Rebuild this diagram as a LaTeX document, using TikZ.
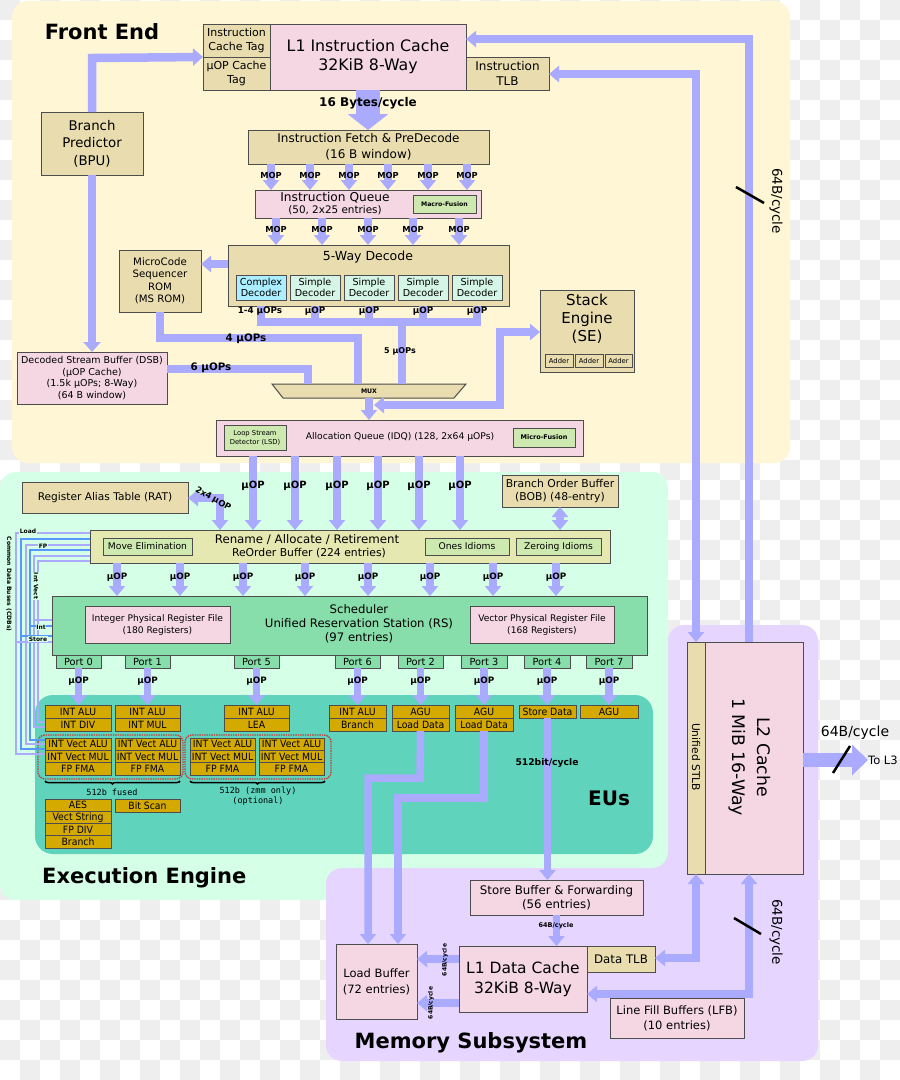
\documentclass[tikz,border=0pt]{standalone}
\usepackage{fontspec}
\setmainfont{DejaVu Sans}
\newfontfamily\condf[FakeStretch=0.93]{DejaVu Sans}
\newfontfamily\monof{DejaVu Sans Mono}
\usetikzlibrary{arrows.meta,decorations.pathreplacing}
\definecolor{fe}{RGB}{255,246,213}
\definecolor{ee}{RGB}{213,255,230}
\definecolor{msc}{RGB}{229,213,255}
\definecolor{euc}{RGB}{95,211,188}
\definecolor{tanc}{RGB}{233,221,175}
\definecolor{pk}{RGB}{244,215,227}
\definecolor{lg}{RGB}{205,233,175}
\definecolor{sch}{RGB}{135,222,170}
\definecolor{gold}{RGB}{212,170,0}
\definecolor{cx}{RGB}{170,238,255}
\definecolor{sdc}{RGB}{213,246,230}
\definecolor{robc}{RGB}{229,232,176}
\definecolor{busc}{RGB}{170,170,255}
\definecolor{cdbc}{RGB}{85,153,255}
\definecolor{brd}{RGB}{77,77,77}
\definecolor{chk}{RGB}{238,238,238}
\newcommand\fz[2]{\fontsize{#1}{#2}\selectfont}
\newcommand\bx[7]{\pgfmathsetmacro\bw{(#4)-(#2)}\pgfmathsetmacro\bh{(#5)-(#3)}%
\node[bxs,#6,minimum width=\bw pt,minimum height=\bh pt] (#1) at ({((#2)+(#4))/2},{((#3)+(#5))/2}) {#7};}
\begin{document}
\begin{tikzpicture}[x=1pt,y=-1pt,
  bxs/.style={draw=brd,line width=1pt,inner sep=0.5pt,outer sep=0pt,align=center},
  bus/.style={draw=busc,line width=7.5pt,-{Triangle[width=16pt,length=10pt]}},
  busb/.style={draw=busc,line width=7.5pt,{Triangle[width=16pt,length=10pt]}-{Triangle[width=16pt,length=10pt]}},
  busn/.style={draw=busc,line width=7.5pt},
  lbl/.style={font=\bfseries\fz{8.3}{9},inner sep=0pt},
  lblu/.style={font=\bfseries\fz{8.8}{10},inner sep=0pt},
  txt/.style={inner sep=0pt,align=center},
  ttl/.style={font=\bfseries\fz{21}{23},inner sep=0pt},
  eu/.style={fill=gold,font=\condf\fz{10}{11},inner sep=0pt},
  cdbl/.style={line width=1.3pt},
  slash/.style={line width=2.5pt,black}
]
\useasboundingbox (0,0) rectangle (900,1080);
\fill[white] (0,0) rectangle (900,1080);
\foreach \i in {0,2,...,44} \foreach \j in {0,2,...,52} {
  \fill[chk] ({\i*20},{\j*20}) rectangle ++(20,20);
  \fill[chk] ({(\i+1)*20},{(\j+1)*20}) rectangle ++(20,20);}
% panels
\fill[fe,rounded corners=16] (12,1) rectangle (790,463);
\fill[ee,rounded corners=16] (0,472) rectangle (668,900);
\fill[msc,rounded corners=16] (326,868) -- (668,868) -- (668,625) -- (818,625) -- (818,1061) -- (326,1061) -- cycle;
\fill[euc,rounded corners=18] (35,695) rectangle (653,854);

% ---------- Front End ----------
\node[ttl] (tfe) at (102,32) {Front End};
\bx{ictag}{203}{24}{270}{57}{fill=tanc,font=\fz{11}{13.5}}{Instruction\\Cache Tag}
\bx{uoptag}{203}{57}{270}{90}{fill=tanc,font=\fz{11}{13.5}}{µOP Cache\\Tag}
\bx{l1i}{270}{24}{466}{90}{fill=pk,font=\fz{15.8}{19}}{L1 Instruction Cache\\32KiB 8-Way}
\bx{itlb}{466}{57}{549}{90}{fill=tanc,font=\fz{12}{15}}{Instruction\\TLB}
\bx{bpu}{41}{112}{143}{175}{fill=tanc,font=\fz{13.3}{17.5}}{Branch\\Predictor\\(BPU)}
\bx{ifetch}{248}{130}{489}{164}{fill=tanc,font=\fz{12}{16}}{Instruction Fetch \& PreDecode\\(16 B window)}
\bx{iq}{255}{190}{481}{218}{fill=pk}{}
\node[txt,font=\fz{12.2}{13}] (iqt1) at (335,198) {Instruction Queue};
\node[txt,font=\fz{10.4}{11}] (iqt2) at (335,210.5) {(50, 2x25 entries)};
\bx{mfuse}{413}{195}{476}{213}{fill=lg,font=\bfseries\fz{6.2}{7}}{Macro-Fusion}
\bx{dec}{228}{245}{509}{306}{fill=tanc}{}
\node[txt,font=\fz{12.5}{14}] (dect) at (368,257) {5-Way Decode};
\bx{cdec}{236}{275}{286}{300}{fill=cx,font=\fz{9.6}{11.5}}{Complex\\Decoder}
\bx{sdec1}{290}{275}{340}{300}{fill=sdc,font=\fz{9.6}{11.5}}{Simple\\Decoder}
\bx{sdec2}{344}{275}{394}{300}{fill=sdc,font=\fz{9.6}{11.5}}{Simple\\Decoder}
\bx{sdec3}{398}{275}{448}{300}{fill=sdc,font=\fz{9.6}{11.5}}{Simple\\Decoder}
\bx{sdec4}{452}{275}{502}{300}{fill=sdc,font=\fz{9.6}{11.5}}{Simple\\Decoder}
\bx{msrom}{119}{250}{201}{312}{fill=tanc,font=\fz{10.2}{12.5}}{MicroCode\\Sequencer\\ROM\\(MS ROM)}
\bx{dsb}{17}{352}{167}{404}{fill=pk,font=\fz{9.5}{11.5}}{Decoded Stream Buffer (DSB)\\(µOP Cache)\\(1.5k µOPs; 8-Way)\\(64 B window)}
\bx{se}{540}{290}{634}{372}{fill=tanc}{}
\node[txt,font=\fz{15}{18}] (set) at (587,319) {Stack\\Engine\\(SE)};
\bx{add1}{545}{354}{573}{367}{fill=tanc,font=\fz{6.8}{8},line width=0.8pt}{Adder}
\bx{add2}{575}{354}{603}{367}{fill=tanc,font=\fz{6.8}{8},line width=0.8pt}{Adder}
\bx{add3}{605}{354}{632}{367}{fill=tanc,font=\fz{6.8}{8},line width=0.8pt}{Adder}
\bx{idq}{216}{420}{583}{456}{fill=pk}{}
\node[txt,font=\fz{9.2}{10}] (idqt) at (400,437) {Allocation Queue (IDQ) (128, 2x64 µOPs)};
\bx{lsd}{224}{425}{286}{450}{fill=lg,font=\fz{6.8}{9}}{Loop Stream\\Detector (LSD)}
\bx{mf2}{513}{428}{575}{447}{fill=lg,font=\bfseries\fz{6.5}{8}}{Micro-Fusion}

% front-end connectors
\draw[draw=busc,line width=24pt,-{Triangle[width=40pt,length=16pt]}] (l1i.south) -- (l1i.south |- ifetch.north);
\node[txt,font=\bfseries\fz{12}{13}] (b16) at (368,103) {16 Bytes/cycle};
\draw[draw=busc,line width=8.5pt,-{Triangle[width=17pt,length=10pt]}] (bpu.north) -- (92,58) -- (ictag.south west);
\draw[draw=busc,line width=8.5pt,-{Triangle[width=17pt,length=10pt]}] (bpu.south) -- (bpu.south |- dsb.north);
\foreach \x [count=\i] in {271,310,349,388,428,467}{
  \draw[bus] (\x,0 |- ifetch.south) -- (\x,0 |- iq.north);
  \node[lbl] (mopa\i) at (\x,175) {MOP};}
\foreach \x [count=\i] in {276,322,368,413,459}{
  \draw[bus] (\x,0 |- iq.south) -- (\x,0 |- dec.north);
  \node[lbl] (mopb\i) at (\x,229) {MOP};}
\draw[bus] (dec.west |- 0,264) -- (msrom.east |- 0,264);
% decoder outputs
\draw[busn] (cdec.south |- dec.south) -- (cdec.south |- 0,322) -- (sdec4.south |- 0,322) -- (sdec4.south |- dec.south);
\foreach \n in {sdec1,sdec2,sdec3} \draw[busn] (\n.south |- dec.south) -- (\n.south |- 0,322);
% mux
\fill[tanc,draw=brd,line width=1pt] (272,384) -- (466,384) -- (454,398) -- (283,398) -- cycle;
\node[inner sep=0pt,minimum width=194pt,minimum height=14pt,font=\bfseries\fz{6.2}{7}] (mux) at (369,391) {MUX};
\draw[busn] (402,322) -- (402,0 |- mux.north);
\draw[busn] (msrom.south -| 160,0) -- (160,338) -- (358,338) -- (358,0 |- mux.north);
\draw[busn] (dsb.east |- 0,369) -- (308,369) -- (308,0 |- mux.north);
\draw[bus] (mux.south) -- (mux.south |- idq.north);
\coordinate (sej) at (374,405);
\draw[busb] (sej) -- (500,405) -- (500,332) -- (se.west |- 0,332);
\node[lbl,font=\bfseries\fz{8.8}{9}] (l14) at (260,311) {1-4 µOPs};
\foreach \x [count=\i] in {315,369,423,477} \node[lbl,font=\bfseries\fz{8.8}{9}] (ud\i) at (\x,311) {µOP};
\node[txt,font=\bfseries\fz{10.3}{11}] (u4) at (246,339) {4 µOPs};
\node[txt,font=\bfseries\fz{10.3}{11}] (u6) at (211,368) {6 µOPs};
\node[txt,font=\bfseries\fz{8}{9}] (u5) at (400,351) {5 µOPs};
% L2 links
\draw[draw=busc,line width=7.5pt,-{Triangle[width=16pt,length=10pt]}] (749,642) -- (749,39) -- (l1i.east |- 0,39);
\draw[busb] (696,642) -- (696,74) -- (itlb.east |- 0,74);
\draw[slash] (736,187) -- (764,203);
\node[txt,font=\fz{13.5}{14},rotate=-90] (w64a) at (776,201) {64B/cycle};

% ---------- Execution Engine ----------
\bx{rat}{22}{482}{188}{513}{fill=tanc,font=\fz{10.6}{12}}{Register Alias Table (RAT)}
\bx{bob}{502}{475}{618}{507}{fill=tanc,font=\fz{10.8}{13.5}}{Branch Order Buffer\\(BOB) (48-entry)}
\bx{rob}{90}{530}{610}{563}{fill=robc}{}
\node[txt,font=\fz{11.8}{12}] (robt1) at (307,540) {Rename / Allocate / Retirement};
\node[txt,font=\fz{10.8}{11}] (robt2) at (309,553) {ReOrder Buffer (224 entries)};
\bx{movel}{103}{538}{192}{555}{fill=lg,font=\fz{9.2}{10}}{Move Elimination}
\bx{ones}{425}{538}{509}{555}{fill=lg,font=\fz{9.2}{10}}{Ones Idioms}
\bx{zero}{516}{538}{601}{555}{fill=lg,font=\fz{9.2}{10}}{Zeroing Idioms}
\bx{sched}{52}{596}{647}{655}{fill=sch}{}
\node[txt,font=\fz{11.7}{14}] (scht) at (359,624) {Scheduler\\Unified Reservation Station (RS)\\(97 entries)};
\bx{iprf}{85}{606}{230}{643}{fill=pk,font=\fz{9.1}{12}}{Integer Physical Register File\\(180 Registers)}
\bx{vprf}{470}{606}{614}{643}{fill=pk,font=\fz{9.1}{12}}{Vector Physical Register File\\(168 Registers)}
\bx{p0}{56}{655}{101}{668}{fill=sch,font=\fz{9.8}{10}}{Port 0}
\bx{p1}{125}{655}{170}{668}{fill=sch,font=\fz{9.8}{10}}{Port 1}
\bx{p5}{234}{655}{279}{668}{fill=sch,font=\fz{9.8}{10}}{Port 5}
\bx{p6}{335}{655}{380}{668}{fill=sch,font=\fz{9.8}{10}}{Port 6}
\bx{p2}{398}{655}{443}{668}{fill=sch,font=\fz{9.8}{10}}{Port 2}
\bx{p3}{461}{655}{507}{668}{fill=sch,font=\fz{9.8}{10}}{Port 3}
\bx{p4}{524}{655}{570}{668}{fill=sch,font=\fz{9.8}{10}}{Port 4}
\bx{p7}{586}{655}{632}{668}{fill=sch,font=\fz{9.8}{10}}{Port 7}
% EUs
\bx{e0a}{45}{705}{111}{718}{eu}{INT ALU}
\bx{e0b}{45}{718}{111}{731}{eu}{INT DIV}
\bx{e1a}{115}{705}{180}{718}{eu}{INT ALU}
\bx{e1b}{115}{718}{180}{731}{eu}{INT MUL}
\bx{e5a}{224}{705}{289}{718}{eu}{INT ALU}
\bx{e5b}{224}{718}{289}{731}{eu}{LEA}
\bx{e6a}{329}{705}{386}{718}{eu}{INT ALU}
\bx{e6b}{329}{718}{386}{731}{eu}{Branch}
\bx{e2a}{392}{705}{449}{718}{eu}{AGU}
\bx{ld2}{392}{718}{449}{731}{eu}{Load Data}
\bx{e3a}{455}{705}{513}{718}{eu}{AGU}
\bx{ld3}{455}{718}{513}{731}{eu}{Load Data}
\bx{sdat}{519}{705}{576}{718}{eu}{Store Data}
\bx{e7}{580}{705}{638}{718}{eu}{AGU}
\foreach \a/\b [count=\i] in {45/111,115/180,190/255,259/324}{
  \bx{va\i}{\a}{738}{\b}{750.3}{eu}{INT Vect ALU}
  \bx{vm\i}{\a}{750.3}{\b}{762.6}{eu}{INT Vect MUL}
  \bx{vf\i}{\a}{762.6}{\b}{775}{eu}{FP FMA}}
\draw[densely dotted,draw={rgb,255:red,200;green,55;blue,55},line width=1.4pt,rounded corners=7] (38,735) rectangle (183,779);
\draw[densely dotted,draw={rgb,255:red,200;green,55;blue,55},line width=1.4pt,rounded corners=7] (185,735) rectangle (331,779);
\draw[line width=1.5pt,decorate,decoration={brace,amplitude=3pt,mirror}] (45,781) -- (180,781);
\draw[line width=1.5pt,decorate,decoration={brace,amplitude=3pt,mirror}] (190,781) -- (325,781);
\node[txt,font=\monof\fz{8.5}{10}] (f512) at (112,792) {512b fused};
\node[txt,font=\monof\fz{8.5}{10}] (z512) at (258,796) {512b (zmm only)\\(optional)};
\bx{aes}{45}{799}{111}{811.3}{eu}{AES}
\bx{vstr}{45}{811.3}{111}{823.5}{eu}{Vect String}
\bx{fpdiv}{45}{823.5}{111}{835.8}{eu}{FP DIV}
\bx{brn}{45}{835.8}{111}{848}{eu}{Branch}
\bx{bscan}{115}{799}{180}{812}{eu}{Bit Scan}
\node[ttl,font=\bfseries\fz{20}{21}] (teus) at (609,798) {EUs};
\node[ttl,anchor=west] (tee) at (42,878) {Execution Engine};

% exec connectors
\foreach \x [count=\i] in {253,295,337,378,419,460}{
  \draw[bus] (\x,0 |- idq.south) -- (\x,0 |- rob.north);
  \node[txt,font=\bfseries\fz{10}{11}] (uq\i) at (\x,486) {µOP};}
\draw[busb] (rat.east |- 0,498) -- (220,498) -- (220,0 |- rob.north);
\node[txt,font=\bfseries\fz{8.5}{9},rotate=-30] (x24) at (213,499) {2x4\hspace{2.5pt}µOP};
\draw[busb] (bob.south) -- (bob.south |- rob.north);
\foreach \x [count=\i] in {117,180,243,305,368,430,493,556}{
  \draw[bus] (\x,0 |- rob.south) -- (\x,0 |- sched.north);
  \node[lblu] (ur\i) at (\x,577) {µOP};}
\foreach \p/\e in {p0/e0a,p1/e1a,p5/e5a,p6/e6a,p2/e2a,p3/e3a,p4/sdat,p7/e7}{
  \draw[bus] (\p.south) -- (\p.south |- \e.north);
  \node[lblu] (u\p) at (\p.south |- 0,681) {µOP};}

% CDB lines
\draw[cdbl,draw=busc] (rob.west |- 0,533) -- (16,533) -- (16,754) -- (va1.west |- 0,754);
\draw[cdbl,draw=cdbc] (rob.west |- 0,539) -- (21,539) -- (21,749) -- (va1.west |- 0,749);
\draw[cdbl,draw=busc] (rob.west |- 0,545) -- (26,545) -- (26,744) -- (va1.west |- 0,744);
\draw[cdbl,draw=cdbc] (rob.west |- 0,550) -- (30,550) -- (30,740) -- (va1.west |- 0,740);
\draw[cdbl,draw=busc] (rob.west |- 0,556) -- (34,556) -- (34,727) -- (e0b.west |- 0,727);
\draw[cdbl,draw=busc] (rob.west |- 0,561) -- (38,561) -- (38,722) -- (e0b.west |- 0,722);
\draw[cdbl,draw=busc] (34,620) -- (sched.west |- 0,620);
\draw[cdbl,draw=cdbc] (30,626) -- (sched.west |- 0,626);
\draw[cdbl,draw=cdbc] (21,636) -- (sched.west |- 0,636);
\draw[cdbl,draw=busc] (16,642) -- (sched.west |- 0,642);
\node[txt,font=\bfseries\fz{6}{7},fill=ee,inner sep=0.6pt] (cload) at (28,531) {Load};
\node[txt,font=\bfseries\fz{6}{7},fill=ee,inner sep=0.6pt] (cfp) at (43,546) {FP};
\node[txt,font=\bfseries\fz{6}{7},fill=ee,inner sep=0.6pt,rotate=-90] (civ) at (36,586) {Int Vect};
\node[txt,font=\bfseries\fz{6}{7},fill=ee,inner sep=0.6pt] (cint) at (41,627) {Int};
\node[txt,font=\bfseries\fz{6}{7},fill=ee,inner sep=0.6pt] (cst) at (38,639) {Store};
\node[txt,font=\bfseries\fz{6}{7},rotate=-90] (ccdb) at (9,584) {Common Data Buses (CDBs)};

% ---------- Memory Subsystem ----------
\bx{stlb}{687}{642}{705}{874}{fill=tanc}{}
\node[txt,font=\fz{10.7}{12},rotate=-90] (stlbt) at (696,757) {Unified STLB};
\bx{l2}{705}{642}{803}{874}{fill=pk}{}
\node[txt,font=\fz{17.3}{25},rotate=-90] (l2t) at (750,757) {L2 Cache\\1 MiB 16-Way};
\bx{sb}{470}{880}{643}{915}{fill=pk,font=\fz{11.8}{14}}{Store Buffer \& Forwarding\\(56 entries)}
\bx{l1d}{459}{946}{587}{1012}{fill=pk,font=\fz{15.5}{20}}{L1 Data Cache\\32KiB 8-Way}
\bx{dtlb}{587}{946}{655}{972}{fill=tanc,font=\fz{11.8}{12}}{Data TLB}
\bx{lb}{336}{944}{417}{1019}{fill=pk,font=\fz{11.5}{16}}{Load Buffer\\(72 entries)}
\bx{lfb}{610}{998}{744}{1038}{fill=pk,font=\fz{11.5}{15}}{Line Fill Buffers (LFB)\\(10 entries)}
\node[ttl] (tms) at (471,1043) {Memory Subsystem};

% memory connectors
\draw[bus] (ld2.south) -- (420,778) -- (368,778) -- (368,0 |- lb.north);
\draw[bus] (ld3.south) -- (484,798) -- (398,798) -- (398,0 |- lb.north);
\draw[bus] (sdat.south) -- (sdat.south |- sb.north);
\node[txt,font=\bfseries\fz{9.2}{10}] (w512) at (547,763) {512bit/cycle};
\draw[bus] (sb.south) -- (sb.south |- l1d.north);
\node[txt,font=\bfseries\fz{6.5}{7}] (w64s) at (556,926) {64B/cycle};
\draw[bus] (l1d.west |- 0,959) -- (lb.east |- 0,959);
\draw[bus] (l1d.west |- 0,1003) -- (lb.east |- 0,1003);
\node[txt,font=\bfseries\fz{6}{7},rotate=90] (w64l1) at (445,960) {64B/cycle};
\node[txt,font=\bfseries\fz{6}{7},rotate=90] (w64l2) at (431,1003) {64B/cycle};
\draw[busb] (stlb.south) -- (stlb.south |- 0,958) -- (dtlb.east |- 0,958);
\draw[busb] (l2.south -| 749,0) -- (749,994) -- (l1d.east |- 0,994);
\draw[slash] (734,918) -- (761,934);
\node[txt,font=\fz{13.5}{14},rotate=-90] (w64b) at (776,932) {64B/cycle};
\node[txt,font=\fz{11.5}{12},anchor=west] (tol3) at (868,760) {To L3};
\draw[draw=busc,line width=14pt,-{Triangle[width=30pt,length=16pt]}] (l2.east |- 0,760) -- (tol3.west);
\draw[slash] (833,773) -- (850,746);
\node[txt,font=\fz{14}{15}] (w64c) at (855,733) {64B/cycle};
\end{tikzpicture}
\end{document}
